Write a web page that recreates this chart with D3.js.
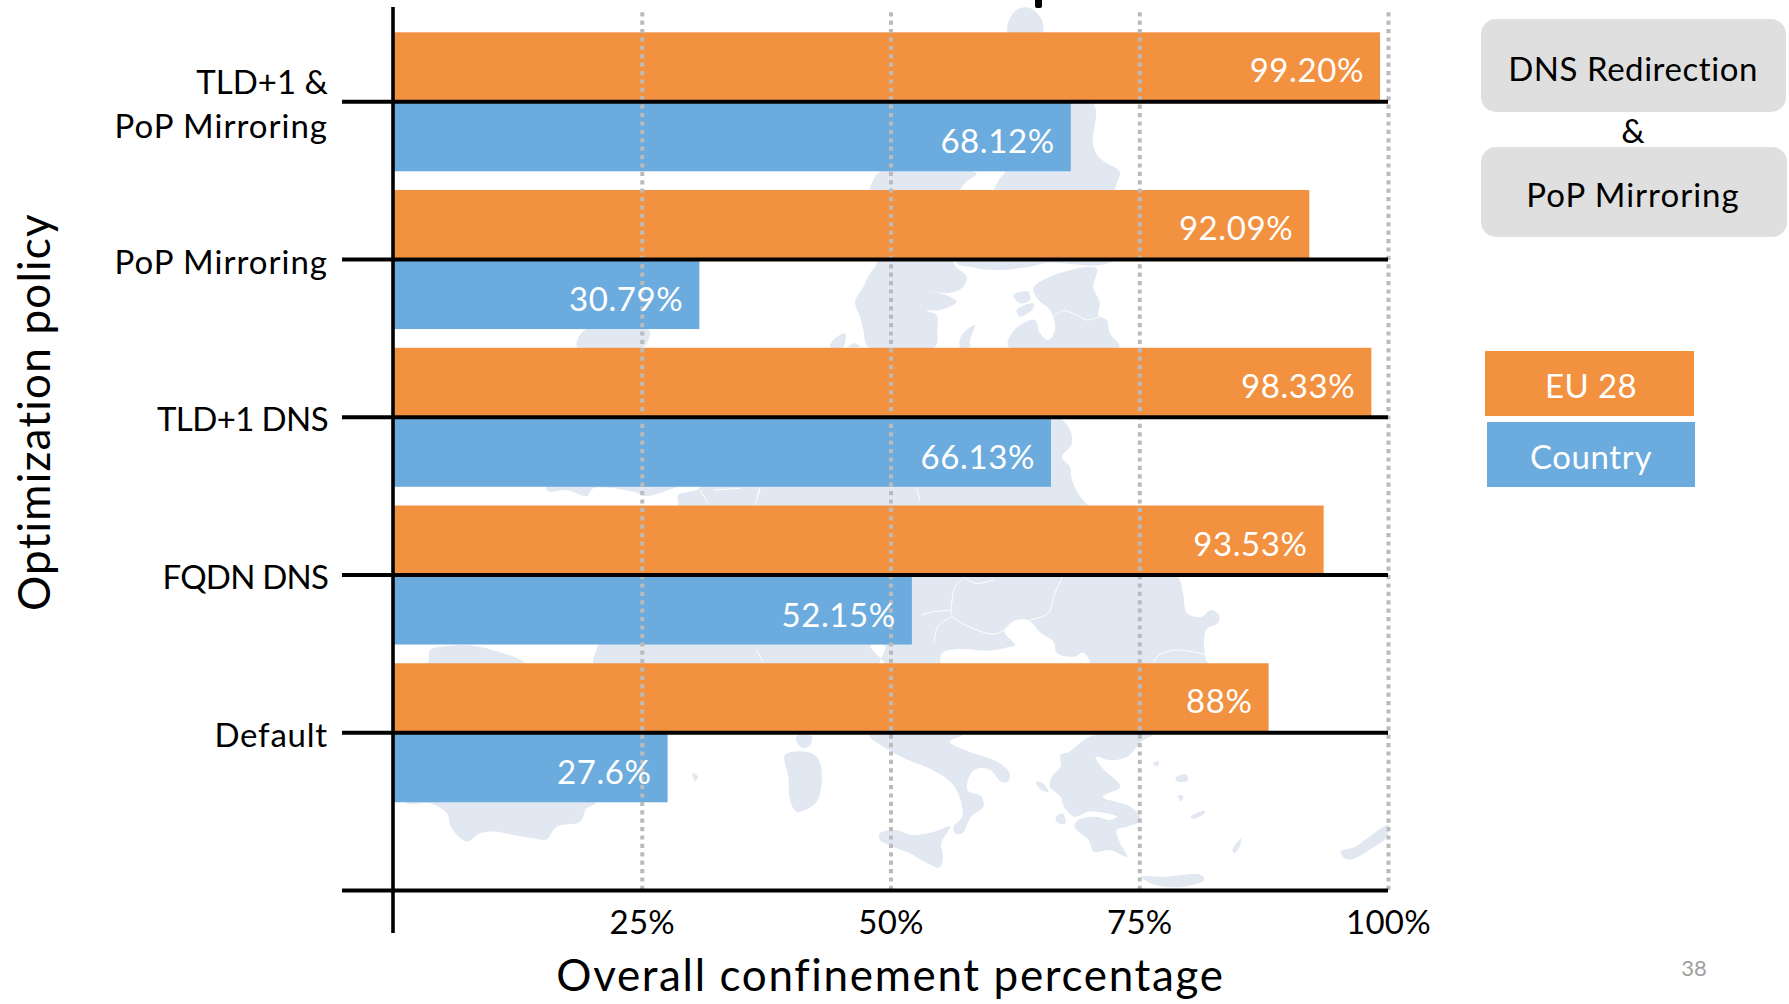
<!DOCTYPE html>
<html>
<head>
<meta charset="utf-8">
<script src="https://cdn.jsdelivr.net/npm/d3@7"></script>
<style>
  html, body { margin: 0; padding: 0; background: #fff; }
  svg { display: block; }
  text { font-family: Lato, "Open Sans", sans-serif; }
</style>
</head>
<body>
<svg id="chart" width="1789" height="1004"></svg>
<script>
// Policies from top to bottom; the empty entry is the closing rule under the last row.
const categories = ["TLD+1 &\nPoP Mirroring", "PoP Mirroring", "TLD+1 DNS", "FQDN DNS", "Default"];
const eu28Values = [99.20, 92.09, 98.33, 93.53, 88];
const countryValues = [68.12, 30.79, 66.13, 52.15, 27.6];
const eu28Labels = ["99.20%", "92.09%", "98.33%", "93.53%", "88%"];
const countryLabels = ["68.12%", "30.79%", "66.13%", "52.15%", "27.6%"];
const xTicks = [25, 50, 75, 100];
const optionBoxes = ["DNS Redirection", "PoP Mirroring"];
const legendEntries = ["EU 28", "Country"];

const ORANGE = "#F29140", BLUE = "#6CABDD", LAND = "#E2E8F1", BOX = "#DFDFDF";
const FONT_TICK = 33, FONT_TITLE = 44;

// Per-string tracking so the wide strings keep their set width in this face.
const tracking = {
  "PoP Mirroring": 1.0,
  "TLD+1 &": 0,
  "TLD+1 DNS": -0.6,
  "FQDN DNS": -0.8,
  "Default": 0.8,
  "DNS Redirection": 0.55,
  "Country": 0.6,
  "EU 28": 0.4
};
const VALUE_TRACKING = 0.6;

const svg = d3.select("#chart");

const x = d3.scaleLinear().domain([0, 100]).range([393, 1388]);
const y = d3.scalePoint().domain([...categories, ""]).range([101.3, 890]);

// --- Faint map of Europe behind the plot. Each sheet has its own local sketch units.
const sheets = {
  north: { tx: 700, ty: 160, sx: 1 / 3, sy: 1 / 3 },
  west: { tx: 380, ty: 480, sx: 1 / 3, sy: 1 / 3 },
  south: { tx: 850, ty: 560, sx: 1 / 2.85, sy: 1 / 3 },
  page: { tx: 0, ty: 0, sx: 1, sy: 1 }
};

const landShapes = [
  // northern tip
  ["page", [[1008,33],[1010,18],[1018,9],[1030,8],[1042,20],[1042,33]]],
  // Sweden
  ["north", [[540,36],[520,60],[510,92],[530,310],[510,340],[490,380],[465,425],[480,470],[490,510],[505,560],[705,560],[712,510],[710,465],[680,452],[720,450],[770,425],[750,410],[680,390],[740,400],[785,385],[800,350],[760,308],[780,92],[800,65],[830,40]]],
  // Finland
  ["north", [[880,92],[900,55],[915,36],[915,-170],[1179,-170],[1179,-51],[1195,-10],[1255,30],[1260,40],[1245,92],[1240,300],[1040,308],[990,320],[880,330],[810,320],[770,308]]],
  // Gotland and the Estonian islands
  ["north", [[780,560],[785,525],[825,495],[810,540],[810,560]]],
  ["north", [[940,405],[985,395],[990,420],[960,430]]],
  ["north", [[950,450],[1000,430],[1000,445],[960,470]]],
  // Denmark
  ["north", [[390,560],[405,535],[435,520],[430,560]]],
  ["north", [[445,560],[465,550],[480,560]]],
  // Baltic states
  ["north", [[1000,385],[1050,350],[1190,325],[1180,380],[1200,430],[1195,465],[1220,480],[1230,520],[1258,560],[925,560],[935,520],[970,490],[1005,480],[1020,520],[1045,540],[1065,510],[1050,450],[1015,420]]],
  // Great Britain, north and south
  ["north", [[-369,561],[-345,510],[-153,510],[-170,561]]],
  ["west", [[500,20],[895,20],[880,25],[800,48],[760,35],[640,25],[620,48],[560,30],[505,35]]],
  // Central and eastern mainland
  ["page", [[700,417],[1062,420],[1072,443],[1062,457],[1070,467],[1072,480],[1083,500],[1178,577],[1183,593],[1187,613],[1201,617],[1211,610],[1219,615],[1218,623],[1206,630],[1206,660],[1208,663],[1208,700],[600,700],[593,663],[598,645],[620,574],[678,505],[678,495],[700,487]]],
  // Iberia
  ["west", [[145,548],[150,510],[215,497],[280,497],[370,520],[435,548],[650,760],[650,965],[620,985],[600,1025],[530,1040],[500,1078],[460,1075],[400,1065],[350,1055],[300,1060],[260,1085],[215,1045],[200,1000],[150,970],[75,965],[75,760]]],
  // Balearics, Corsica, Sardinia
  ["west", [[938,880],[955,890],[945,903]]],
  ["west", [[1250,768],[1295,768],[1290,795],[1270,805],[1250,785]]],
  ["west", [[1215,825],[1280,815],[1310,830],[1325,875],[1310,965],[1250,995],[1230,960],[1225,890]]],
  // Italy
  ["south", [[55,525],[110,570],[165,600],[225,625],[290,670],[315,720],[320,770],[295,800],[300,820],[320,820],[345,770],[380,740],[375,710],[335,690],[345,640],[365,625],[400,630],[430,665],[450,665],[455,640],[420,605],[340,575],[285,545],[320,525]]],
  // Sicily
  ["south", [[85,820],[130,810],[175,825],[240,815],[285,800],[260,850],[265,890],[255,922],[220,910],[170,880],[110,855],[85,840]]],
  // Greece and its neighbours
  ["south", [[700,525],[660,545],[625,575],[600,585],[600,620],[575,650],[570,680],[600,710],[610,740],[640,770],[680,755],[760,770],[740,780],[700,770],[650,780],[640,800],[680,840],[695,875],[740,870],[790,890],[770,850],[760,810],[790,800],[830,780],[800,740],[720,710],[770,680],[720,625],[700,590],[740,600],[790,590],[830,545],[860,525]]],
  ["south", [[530,665],[550,670],[565,695],[545,690]]],
  ["south", [[585,775],[605,760],[615,790],[595,790]]],
  // Aegean islands, Crete, Rhodes, Cyprus
  ["south", [[865,608],[880,604],[878,618],[868,618]]],
  ["south", [[928,652],[960,644],[962,662],[932,664]]],
  ["south", [[934,708],[950,708],[944,724]]],
  ["south", [[970,770],[1012,752],[1008,762],[978,776]]],
  ["south", [[830,950],[900,950],[1000,945],[1010,960],[950,980],[870,975]]],
  ["south", [[1090,870],[1115,835],[1110,860],[1095,880]]],
  ["south", [[1398,875],[1440,860],[1480,830],[1535,795],[1530,830],[1480,870],[1430,898],[1410,895]]]
];

// Seas and non-member states cut back out of the mainland.
const cutOuts = [
  ["south", [[262,312],[262,280],[300,268],[400,272],[450,262],[470,255],[440,215],[470,182],[510,182],[545,220],[580,245],[590,280],[640,290],[665,278],[682,312]]],
  ["south", [[58,258],[100,258],[85,312],[100,312]]]
];

const borderLines = [
  ["south", [[330,50],[300,80],[290,130],[290,165],[350,205],[410,222],[440,210],[470,180]]],
  ["south", [[205,165],[240,155],[290,150]]],
  ["south", [[290,170],[250,200],[240,250]]],
  ["south", [[330,55],[360,70],[410,60]]],
  ["south", [[605,50],[580,110],[565,160],[510,180]]],
  ["south", [[865,310],[880,285],[930,270],[1020,285]]],
  ["west", [[960,30],[985,70]]],
  ["west", [[1140,25],[1125,75]]],
  ["west", [[1130,510],[1150,548]]],
  ["north", [[180,985],[170,1020]]],
  ["north", [[650,985],[660,1020]]],
  ["north", [[40,990],[120,985]]],
  ["north", [[1060,470],[1090,452],[1130,465],[1160,480],[1200,470]]]
];

const toPage = (sheet, pts) => {
  const s = sheets[sheet];
  return pts.map(([a, b]) => [s.tx + a * s.sx, s.ty + b * s.sy]);
};
const outline = d3.line().curve(d3.curveCatmullRom.alpha(0.5));
const closedOutline = d3.line().curve(d3.curveCatmullRomClosed.alpha(0.5));

const map = svg.append("g").attr("class", "map");
map.selectAll("path.land").data(landShapes).join("path")
  .attr("class", "land")
  .attr("fill", LAND)
  .attr("d", d => closedOutline(toPage(d[0], d[1])));
map.selectAll("path.cut").data(cutOuts).join("path")
  .attr("class", "cut")
  .attr("fill", "#fff")
  .attr("d", d => closedOutline(toPage(d[0], d[1])));
map.selectAll("path.border").data(borderLines).join("path")
  .attr("class", "border")
  .attr("fill", "none")
  .attr("stroke", "#fff")
  .attr("stroke-width", 1)
  .attr("d", d => outline(toPage(d[0], d[1])));

// --- Paired bars: EU 28 sits above each rule, Country below it.
const EU_HEIGHT = 69, COUNTRY_HEIGHT = 70;

svg.append("g").selectAll("rect").data(categories).join("rect")
  .attr("x", x(0))
  .attr("y", d => y(d) - EU_HEIGHT)
  .attr("width", (d, i) => x(eu28Values[i]) - x(0))
  .attr("height", EU_HEIGHT)
  .attr("fill", ORANGE);

svg.append("g").selectAll("rect").data(categories).join("rect")
  .attr("x", x(0))
  .attr("y", d => y(d))
  .attr("width", (d, i) => x(countryValues[i]) - x(0))
  .attr("height", COUNTRY_HEIGHT)
  .attr("fill", BLUE);

// --- Dotted vertical guides and the bottom tick labels.
const xAxis = svg.append("g")
  .attr("transform", "translate(0,890)")
  .call(d3.axisBottom(x).tickValues(xTicks).tickFormat(d => d + "%").tickSize(0).tickPadding(0));
xAxis.select(".domain").remove();
xAxis.selectAll("line")
  .attr("y1", 0).attr("y2", -881)
  .attr("stroke", "#BBBBBB")
  .attr("stroke-width", 4)
  .attr("stroke-dasharray", "4.2 4.2");
xAxis.selectAll("text")
  .attr("y", 44).attr("dy", 0)
  .attr("font-size", FONT_TICK)
  .attr("letter-spacing", 0.3)
  .attr("fill", "#000");

// --- Black category rules with their labels.
const yAxis = svg.append("g")
  .attr("transform", "translate(342,0)")
  .call(d3.axisLeft(y).tickSize(0).tickFormat(""));
yAxis.select(".domain").remove();
yAxis.selectAll("line")
  .attr("x1", 0).attr("x2", 1046)
  .attr("stroke", "#000")
  .attr("stroke-width", 4);
yAxis.selectAll("text")
  .attr("x", -14).attr("dy", 0)
  .attr("text-anchor", "end")
  .attr("font-size", FONT_TICK)
  .attr("fill", "#000")
  .each(function (d) {
    const lines = d.split("\n");
    d3.select(this).selectAll("tspan").data(lines).join("tspan")
      .attr("x", -14)
      .attr("y", (l, i) => lines.length > 1 ? (i === 0 ? -8 : 36) : 14)
      .attr("letter-spacing", l => tracking[l] || 0)
      .text(l => l);
  });

// Vertical axis line
svg.append("line")
  .attr("x1", x(0)).attr("x2", x(0))
  .attr("y1", 7).attr("y2", 933)
  .attr("stroke", "#000").attr("stroke-width", 3.6);

// Stub of a heading that runs off the top edge
svg.append("rect")
  .attr("x", 1035).attr("y", -4).attr("width", 7).attr("height", 12).attr("rx", 2)
  .attr("fill", "#000");

// --- Value labels inside the bar ends.
const addValueLabels = (values, labels, baselineOffset) => {
  svg.append("g").selectAll("text").data(categories).join("text")
    .attr("x", (d, i) => x(values[i]) - 16)
    .attr("y", d => y(d) + baselineOffset)
    .attr("text-anchor", "end")
    .attr("font-size", FONT_TICK)
    .attr("letter-spacing", VALUE_TRACKING)
    .attr("fill", "#fff")
    .text((d, i) => labels[i]);
};
addValueLabels(eu28Values, eu28Labels, -19);
addValueLabels(countryValues, countryLabels, 52);

// --- Axis titles.
svg.append("text")
  .attr("x", x(50)).attr("y", 991)
  .attr("text-anchor", "middle")
  .attr("font-size", FONT_TITLE)
  .attr("letter-spacing", 1.65)
  .text("Overall confinement percentage");
svg.append("text")
  .attr("transform", "translate(50,412) rotate(-90)")
  .attr("text-anchor", "middle")
  .attr("font-size", FONT_TITLE)
  .attr("letter-spacing", 1.2)
  .text("Optimization policy");

// --- Option boxes at the upper right.
const boxGeometry = [
  { x: 1481, y: 19, w: 305, h: 93, base: 81 },
  { x: 1481, y: 147, w: 306, h: 90, base: 207 }
];
const options = svg.append("g");
options.selectAll("rect").data(optionBoxes).join("rect")
  .attr("x", (d, i) => boxGeometry[i].x)
  .attr("y", (d, i) => boxGeometry[i].y)
  .attr("width", (d, i) => boxGeometry[i].w)
  .attr("height", (d, i) => boxGeometry[i].h)
  .attr("rx", 15)
  .attr("fill", BOX);
options.selectAll("text").data(optionBoxes).join("text")
  .attr("x", 1633)
  .attr("y", (d, i) => boxGeometry[i].base)
  .attr("text-anchor", "middle")
  .attr("font-size", FONT_TICK)
  .attr("letter-spacing", d => tracking[d] || 0)
  .text(d => d);
options.append("text")
  .attr("x", 1633).attr("y", 143)
  .attr("text-anchor", "middle")
  .attr("font-size", FONT_TICK)
  .text("&");

// --- Legend.
const legendGeometry = [
  { x: 1485, y: 351, w: 209, h: 65, base: 398, fill: ORANGE },
  { x: 1487, y: 422, w: 208, h: 65, base: 469, fill: BLUE }
];
const legend = svg.append("g");
legend.selectAll("rect").data(legendEntries).join("rect")
  .attr("x", (d, i) => legendGeometry[i].x)
  .attr("y", (d, i) => legendGeometry[i].y)
  .attr("width", (d, i) => legendGeometry[i].w)
  .attr("height", (d, i) => legendGeometry[i].h)
  .attr("fill", (d, i) => legendGeometry[i].fill);
legend.selectAll("text").data(legendEntries).join("text")
  .attr("x", 1591)
  .attr("y", (d, i) => legendGeometry[i].base)
  .attr("text-anchor", "middle")
  .attr("font-size", FONT_TICK)
  .attr("letter-spacing", d => tracking[d] || 0)
  .attr("fill", "#fff")
  .text(d => d);

// Slide number
svg.append("text")
  .attr("x", 1694).attr("y", 976)
  .attr("text-anchor", "middle")
  .attr("font-size", 22)
  .attr("fill", "#9E9E9E")
  .text("38");
</script>
</body>
</html>
